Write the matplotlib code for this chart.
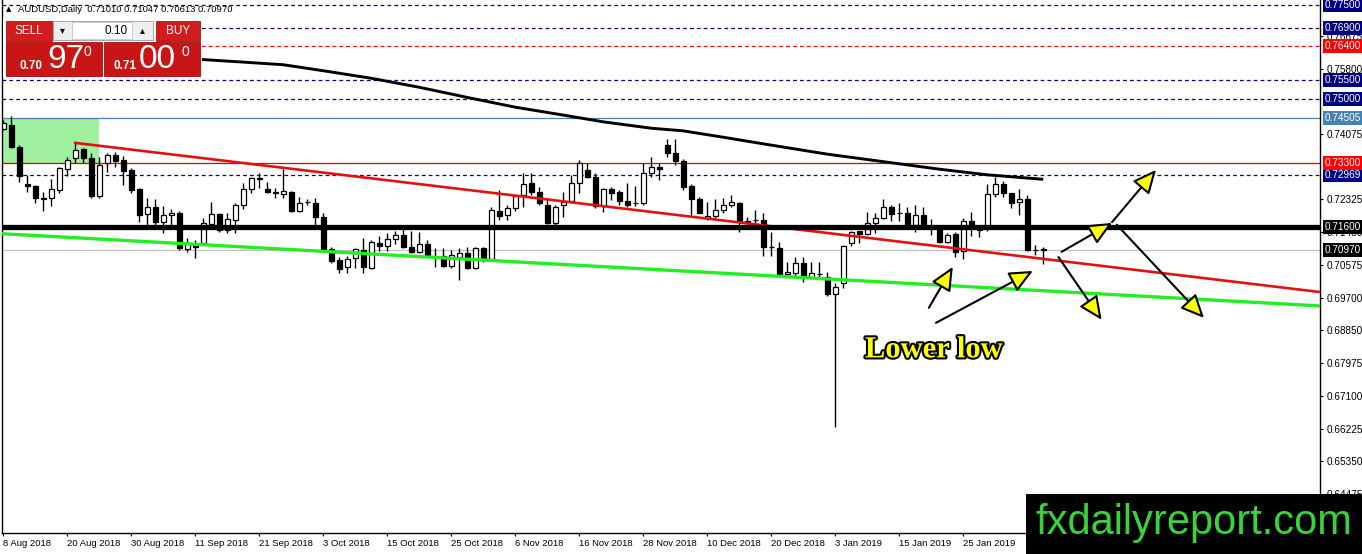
import numpy as np
import matplotlib
matplotlib.use('Agg')
import matplotlib.pyplot as plt
import matplotlib.transforms as mtransforms
import matplotlib.patheffects as pe
from matplotlib.patches import Rectangle

plt.rcParams['font.family'] = ['Liberation Sans', 'DejaVu Sans']

# daily AUDUSD bars, 8 Aug 2018 .. 8 Feb 2019
opens = [0.7420, 0.7431, 0.7372, 0.7274, 0.7268, 0.7236, 0.7236, 0.7258, 0.7314, 0.7343,
         0.7367, 0.7343, 0.7242, 0.7329, 0.7351, 0.7337, 0.7311, 0.7260, 0.7194, 0.7212,
         0.7172, 0.7191, 0.7196, 0.7101, 0.7111, 0.7117, 0.7167, 0.7194, 0.7151, 0.7178,
         0.7218, 0.7260, 0.7287, 0.7260, 0.7251, 0.7247, 0.7252, 0.7202, 0.7225, 0.7223,
         0.7186, 0.7101, 0.7071, 0.7053, 0.7077, 0.7098, 0.7050, 0.7117, 0.7109, 0.7127,
         0.7138, 0.7106, 0.7093, 0.7114, 0.7080, 0.7082, 0.7055, 0.7079, 0.7090, 0.7050,
         0.7103, 0.7074, 0.7202, 0.7191, 0.7210, 0.7244, 0.7276, 0.7252, 0.7218, 0.7170,
         0.7218, 0.7228, 0.7276, 0.7311, 0.7292, 0.7215, 0.7260, 0.7252, 0.7228, 0.7222,
         0.7223, 0.7303, 0.7319, 0.7377, 0.7356, 0.7335, 0.7268, 0.7234, 0.7183, 0.7188,
         0.7204, 0.7218, 0.7223, 0.7175, 0.7178, 0.7178, 0.7106, 0.7103, 0.7034, 0.7037,
         0.7063, 0.7026, 0.7034, 0.7026, 0.6981, 0.7010, 0.7117, 0.7149, 0.7141, 0.7170,
         0.7183, 0.7212, 0.7197, 0.7196, 0.7164, 0.7191, 0.7160, 0.7156, 0.7119, 0.7141,
         0.7095, 0.7175, 0.7156, 0.7156, 0.7247, 0.7274, 0.7250, 0.7226, 0.7234, 0.7099,
         0.71010]
highs = [0.7444, 0.7454, 0.7377, 0.7298, 0.7270, 0.7252, 0.7287, 0.7318, 0.7345, 0.7383,
         0.7369, 0.7356, 0.7345, 0.7356, 0.7359, 0.7348, 0.7316, 0.7263, 0.7236, 0.7234,
         0.7215, 0.7207, 0.7202, 0.7130, 0.7125, 0.7183, 0.7226, 0.7196, 0.7196, 0.7223,
         0.7276, 0.7292, 0.7303, 0.7279, 0.7263, 0.7314, 0.7254, 0.7239, 0.7234, 0.7236,
         0.7196, 0.7106, 0.7079, 0.7082, 0.7103, 0.7130, 0.7125, 0.7135, 0.7143, 0.7149,
         0.7154, 0.7149, 0.7146, 0.7125, 0.7103, 0.7103, 0.7098, 0.7103, 0.7106, 0.7106,
         0.7106, 0.7212, 0.7258, 0.7218, 0.7244, 0.7303, 0.7303, 0.7266, 0.7236, 0.7218,
         0.7252, 0.7298, 0.7337, 0.7329, 0.7303, 0.7263, 0.7266, 0.7258, 0.7276, 0.7268,
         0.7329, 0.7345, 0.7329, 0.7393, 0.7393, 0.7340, 0.7274, 0.7239, 0.7226, 0.7234,
         0.7236, 0.7244, 0.7226, 0.7186, 0.7204, 0.7196, 0.7146, 0.7119, 0.7066, 0.7079,
         0.7079, 0.7066, 0.7066, 0.7039, 0.7010, 0.7111, 0.7149, 0.7149, 0.7199, 0.7196,
         0.7234, 0.7218, 0.7223, 0.7212, 0.7218, 0.7212, 0.7180, 0.7159, 0.7143, 0.7146,
         0.7183, 0.7199, 0.7164, 0.7274, 0.7292, 0.7282, 0.7250, 0.7260, 0.7244, 0.7111,
         0.71047]
lows = [0.7417, 0.7370, 0.7279, 0.7252, 0.7223, 0.7202, 0.7215, 0.7250, 0.7295, 0.7329,
        0.7329, 0.7236, 0.7236, 0.7306, 0.7319, 0.7271, 0.7250, 0.7172, 0.7164, 0.7164,
        0.7143, 0.7159, 0.7098, 0.7093, 0.7077, 0.7111, 0.7159, 0.7146, 0.7143, 0.7143,
        0.7207, 0.7250, 0.7263, 0.7250, 0.7236, 0.7236, 0.7200, 0.7199, 0.7218, 0.7164,
        0.7096, 0.7063, 0.7037, 0.7037, 0.7050, 0.7037, 0.7047, 0.7095, 0.7095, 0.7114,
        0.7104, 0.7091, 0.7090, 0.7079, 0.7053, 0.7053, 0.7050, 0.7018, 0.7047, 0.7047,
        0.7066, 0.7071, 0.7178, 0.7178, 0.7202, 0.7212, 0.7244, 0.7218, 0.7168, 0.7162,
        0.7186, 0.7226, 0.7250, 0.7290, 0.7210, 0.7199, 0.7231, 0.7218, 0.7212, 0.7215,
        0.7218, 0.7292, 0.7284, 0.7345, 0.7324, 0.7258, 0.7191, 0.7196, 0.7178, 0.7183,
        0.7196, 0.7212, 0.7146, 0.7167, 0.7170, 0.7082, 0.7082, 0.7029, 0.7032, 0.7029,
        0.7013, 0.7026, 0.7024, 0.6976, 0.6627, 0.6997, 0.7109, 0.7117, 0.7138, 0.7143,
        0.7180, 0.7175, 0.7175, 0.7159, 0.7146, 0.7159, 0.7138, 0.7117, 0.7117, 0.7079,
        0.7074, 0.7135, 0.7133, 0.7149, 0.7239, 0.7239, 0.7210, 0.7191, 0.7096, 0.7085,
        0.70613]
closes = [0.7436, 0.7372, 0.7295, 0.7268, 0.7236, 0.7234, 0.7260, 0.7316, 0.7337, 0.7364,
          0.7343, 0.7242, 0.7324, 0.7351, 0.7335, 0.7308, 0.7258, 0.7191, 0.7212, 0.7172,
          0.7191, 0.7196, 0.7103, 0.7117, 0.7106, 0.7170, 0.7194, 0.7151, 0.7180, 0.7218,
          0.7260, 0.7290, 0.7289, 0.7252, 0.7250, 0.7255, 0.7202, 0.7223, 0.7226, 0.7186,
          0.7098, 0.7069, 0.7047, 0.7074, 0.7101, 0.7053, 0.7119, 0.7109, 0.7127, 0.7138,
          0.7106, 0.7093, 0.7114, 0.7085, 0.7079, 0.7055, 0.7085, 0.7090, 0.7050, 0.7103,
          0.7077, 0.7204, 0.7188, 0.7210, 0.7242, 0.7274, 0.7252, 0.7223, 0.7170, 0.7212,
          0.7226, 0.7276, 0.7329, 0.7292, 0.7215, 0.7260, 0.7250, 0.7228, 0.7218, 0.7223,
          0.7303, 0.7319, 0.7314, 0.7356, 0.7335, 0.7266, 0.7234, 0.7196, 0.7188, 0.7204,
          0.7218, 0.7226, 0.7175, 0.7172, 0.7177, 0.7106, 0.7105, 0.7032, 0.7039, 0.7063,
          0.7026, 0.7037, 0.7035, 0.6981, 0.7000, 0.7109, 0.7146, 0.7141, 0.7170, 0.7183,
          0.7212, 0.7194, 0.7196, 0.7164, 0.7191, 0.7164, 0.7159, 0.7119, 0.7138, 0.7093,
          0.7175, 0.7164, 0.7151, 0.7247, 0.7274, 0.7250, 0.7223, 0.7234, 0.7098, 0.7098,
          0.70970]

date_labels = ['8 Aug 2018', '20 Aug 2018', '30 Aug 2018', '11 Sep 2018', '21 Sep 2018',
               '3 Oct 2018', '15 Oct 2018', '25 Oct 2018', '6 Nov 2018', '16 Nov 2018',
               '28 Nov 2018', '10 Dec 2018', '20 Dec 2018', '3 Jan 2019', '15 Jan 2019',
               '25 Jan 2019']

# moving average read at a few bars
ma_idx = [24, 30, 35, 40, 46, 52, 58, 64, 70, 75, 81, 85, 90, 96, 103, 110, 117, 123, 130]
ma_val = [0.7606, 0.7598, 0.7591, 0.7575, 0.7555, 0.7531, 0.7504, 0.7478, 0.7457, 0.7439,
          0.7422, 0.7415, 0.7398, 0.7377, 0.7353, 0.7333, 0.7313, 0.7298, 0.7286]

# trendlines (bar index, price)
red_trend = ([9, 164.6], [0.7383, 0.6986])
green_trend = ([0, 164.6], [0.7141, 0.6949])
box_zone = (0, 12, 0.73300, 0.74505)

navy_levels = [0.77500, 0.76900, 0.75500, 0.75000, 0.72969]
red_dash_level = 0.76400
red_level = 0.73300
blue_level = 0.74505
black_level = 0.71600

plain_ticks = [0.76675, 0.75800, 0.74075, 0.72325, 0.71450, 0.70575, 0.69700, 0.68850,
               0.67975, 0.67100, 0.66225, 0.65350, 0.64475]

# analyst arrows: (tail idx, tail price, head idx, head price)
arrows = [(115.7, 0.6944, 118.7, 0.7053),
          (116.6, 0.6904, 128.7, 0.7042),
          (132.3, 0.7093, 138.6, 0.7170),
          (138.6, 0.7172, 144.1, 0.7311),
          (131.9, 0.7079, 137.3, 0.6912),
          (139.2, 0.7165, 150.1, 0.6917)]

W, H = 1362, 554
fig = plt.figure(figsize=(W / 100, H / 100), dpi=100)
fig.patch.set_facecolor('white')
ax = fig.add_axes([2 / W, 21 / H, 1318 / W, 533 / H])
ax.set_xlim(-0.16, 164.6)
ax.set_ylim(0.63446, 0.77633)

o = np.array(opens); h = np.array(highs); l = np.array(lows); c = np.array(closes)
idx = np.arange(len(o))

ax.add_patch(Rectangle((box_zone[0] - 0.5, box_zone[2]), box_zone[1] - box_zone[0] + 0.5,
                       box_zone[3] - box_zone[2], fc='#9ff09f', ec='none', zorder=0.5))

for lv in navy_levels:
    ax.axhline(lv, color='#000080', lw=0.9, ls=(0, (3, 2.5)), zorder=1)
ax.axhline(red_dash_level, color='#ff0000', lw=0.9, ls=(0, (3, 2.5)), zorder=1)
ax.axhline(blue_level, color='#4682b4', lw=0.9, zorder=1)
ax.axhline(red_level, color='#e00000', lw=0.9, zorder=1)
ax.axhline(closes[-1], color='#c0c0c0', lw=0.9, zorder=1)

ax.vlines(idx, l, h, color='black', lw=1, zorder=2)
bottoms = np.minimum(o, c)
heights = np.maximum(np.abs(c - o), 0.00004)
colors = np.where(c >= o, 'white', 'black')
ax.bar(idx, heights, bottom=bottoms, width=0.6, color=colors, edgecolor='black',
       linewidth=0.9, zorder=2.5)

ax.plot(ma_idx, ma_val, color='black', lw=2.1, zorder=3, solid_capstyle='butt')
ax.plot(*red_trend, color='#e41010', lw=1.9, zorder=3)
ax.plot(*green_trend, color='#22ee22', lw=2.4, zorder=3)
ax.axhline(black_level, color='black', lw=3.8, zorder=3.2)

for x0, y0, x1, y1 in arrows:
    ax.annotate('', xy=(x1, y1), xytext=(x0, y0),
                arrowprops=dict(arrowstyle='-|>,head_length=1.2,head_width=0.55',
                                mutation_scale=12, fc='#ffff00', ec='black', lw=1.5,
                                shrinkA=0, shrinkB=0), zorder=4)

ax.text(116.3, 0.6832, 'Lower low', ha='center', va='center', fontsize=22,
        family=['Liberation Serif', 'DejaVu Serif'], weight='bold', color='#ffff00',
        path_effects=[pe.withStroke(linewidth=3, foreground='black')], zorder=5)

# axes styling
ax.spines['top'].set_visible(False)
for s in ['left', 'right', 'bottom']:
    ax.spines[s].set_color('black')
    ax.spines[s].set_linewidth(1)
ax.yaxis.tick_right()
ax.set_yticks(plain_ticks)
ax.set_yticklabels([f'{v:.5f}' for v in plain_ticks])
ax.tick_params(axis='y', direction='out', length=2.5, pad=2, labelsize=7.2, right=True, left=False)
ax.set_xticks(np.arange(len(date_labels)) * 8)
ax.set_xticklabels(date_labels, ha='left')
ax.tick_params(axis='x', direction='out', length=2.5, pad=2, labelsize=6.8)

hl = [(v, '#000080') for v in navy_levels] + [(red_dash_level, '#ff0000'),
      (blue_level, '#4682b4'), (red_level, '#ff0000'), (black_level, 'black'),
      (closes[-1], 'black')]
tr = mtransforms.blended_transform_factory(ax.transAxes, ax.transData)
for v, col in hl:
    ax.text(1.0035, v, f'{v:.5f}', transform=tr, ha='left', va='center', fontsize=7.2,
            color='white', clip_on=False, zorder=6,
            bbox=dict(boxstyle='square,pad=0.2', fc=col, ec='none'))

# overlay in pixel units for terminal widgets
ov = fig.add_axes([0, 0, 1, 1], zorder=10)
ov.set_xlim(0, W)
ov.set_ylim(H, 0)
ov.axis('off')

ov.text(6, 9, '▲', fontsize=5, va='center', ha='left', family=['DejaVu Sans'])
ov.text(18, 9, f'AUDUSD,Daily  {opens[-1]:.5f} {highs[-1]:.5f} {lows[-1]:.5f} {closes[-1]:.5f}',
        fontsize=6.8, va='center', ha='left')

ov.add_patch(Rectangle((3, 18), 199, 59, fc='white', ec='none'))
red = '#d01c1c'
ov.add_patch(Rectangle((6, 21), 46, 20, fc=red, ec='#b01010', lw=0.6))
ov.text(29, 31, 'SELL', color='white', fontsize=8.5, ha='center', va='center')
ov.add_patch(Rectangle((53, 21), 100, 19, fc='#efefef', ec='#9a9a9a', lw=0.6))
ov.add_patch(Rectangle((72, 22), 60, 17, fc='white', ec='#c8c8c8', lw=0.6))
ov.text(62, 30, '▾', fontsize=7, ha='center', va='center', family=['DejaVu Sans'])
ov.text(142, 30, '▴', fontsize=7, ha='center', va='center', family=['DejaVu Sans'])
ov.text(128, 30.5, '0.10', fontsize=8.5, ha='right', va='center')
ov.add_patch(Rectangle((156, 21), 44, 20, fc=red, ec='#b01010', lw=0.6))
ov.text(178, 31, 'BUY', color='white', fontsize=8.5, ha='center', va='center')

ov.add_patch(Rectangle((6, 42), 96, 34, fc='#c81515', ec='#a00e0e', lw=0.6))
ov.add_patch(Rectangle((104, 42), 96, 34, fc='#c81515', ec='#a00e0e', lw=0.6))
ov.text(19, 66, '0.70', color='white', fontsize=8.5, weight='bold', ha='left', va='center')
ov.text(47, 59, '97', color='white', fontsize=24, ha='left', va='center')
ov.text(84, 52, '0', color='white', fontsize=10, ha='left', va='center')
ov.text(114, 66, '0.71', color='white', fontsize=8.5, weight='bold', ha='left', va='center')
ov.text(139, 59, '00', color='white', fontsize=24, ha='left', va='center')
ov.text(181, 52, '0', color='white', fontsize=10, ha='left', va='center')

ov.add_patch(Rectangle((1026, 494), 336, 60, fc='black', ec='none'))
ov.text(1194, 523, 'fxdailyreport.com', color='#3ad23a', fontsize=30, ha='center', va='center')

fig.savefig('out.png', dpi=100)
